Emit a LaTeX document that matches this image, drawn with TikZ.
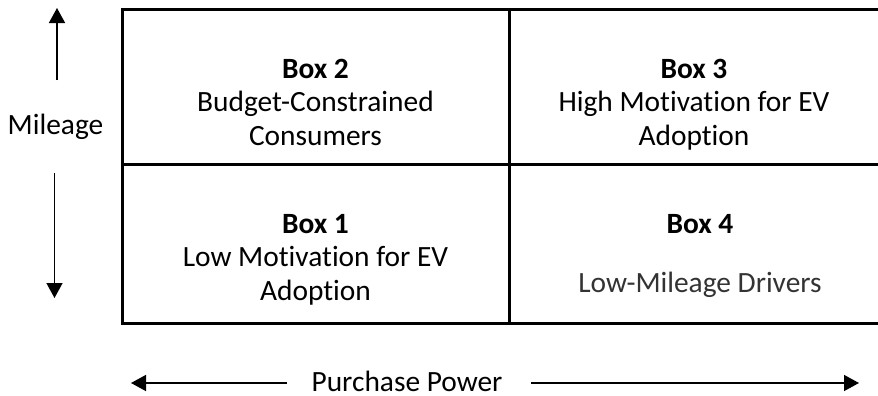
\documentclass[tikz,border=0pt]{standalone}
\usepackage{fontspec}
\setmainfont{Carlito}[RawFeature={-liga}]
\usetikzlibrary{arrows.meta}
\begin{document}
\begin{tikzpicture}[x=0.5pt, y=-0.5pt,
  txt/.style={font=\fontsize{14.7}{17}\selectfont, anchor=base, inner sep=0pt},
  ttl/.style={txt, font=\fontsize{14.7}{17}\selectfont\bfseries},
  grid/.style={line width=1.5pt},
  axis/.style={line width=0.75pt, -{Triangle[width=8pt,length=7.5pt]}}]
\useasboundingbox (0,0) rectangle (878,396);
\draw[grid] (878,9.5) -- (122.5,9.5) -- (122.5,323.5) -- (878,323.5);
\draw[grid] (122.5,164) -- (878,164);
\draw[grid] (509,9.5) -- (509,323.5);
\node[ttl] (b2) at (315.5,78){Box 2};
\node[txt] (b2a) at (315.5,111){Budget-Constrained};
\node[txt] (b2b) at (315.5,145){Consumers};
\node[ttl] (b3) at (694,78){Box 3};
\node[txt] (b3a) at (694,111){High Motivation for EV};
\node[txt] (b3b) at (694,145){Adoption};
\node[ttl] (b1) at (315.5,233){Box 1};
\node[txt] (b1a) at (315.5,266){Low Motivation for EV};
\node[txt] (b1b) at (315.5,300){Adoption};
\node[ttl] (b4) at (700,233){Box 4};
\node[txt, text=black!80] (b4a) at (700,292){Low-Mileage Drivers};
\node[txt] (mil) at (55.5,134){Mileage};
\coordinate (milhi0) at (57,80);
\coordinate (milhi) at (57,8);
\coordinate (millo0) at (54.5,173);
\coordinate (millo) at (54.5,298);
\draw[axis] (milhi0) -- (milhi);
\draw[axis] (millo0) -- (millo);
\node[txt] (pp) at (407,391){Purchase Power};
\coordinate (pplo0) at (287,383);
\coordinate (pplo) at (131,383);
\coordinate (pphi0) at (531,383);
\coordinate (pphi) at (859,383);
\draw[axis] (pplo0) -- (pplo);
\draw[axis] (pphi0) -- (pphi);
\end{tikzpicture}
\end{document}
